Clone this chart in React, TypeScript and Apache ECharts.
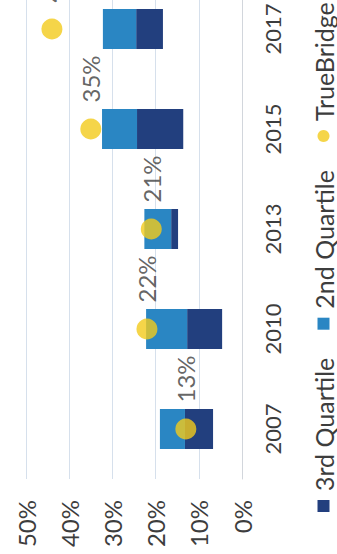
import React, { useEffect, useRef } from "react";
import * as echarts from "echarts";

const years = ["2007", "2010", "2013", "2015", "2017"];
const thirdQuartileLow = [6.7, 4.6, 14.8, 13.6, 18.3];
const medianValues = [13.2, 12.7, 16.4, 24.3, 24.5];
const secondQuartileHigh = [19.0, 22.2, 22.6, 32.4, 32.2];
const trueBridge = [13, 22, 21, 35, 44];
const seriesNames = ["3rd Quartile", "2nd Quartile", "TrueBridge"];

const FONT = "Lato";
const TEXT = "#3d3d3d";

export default function App() {
  const ref = useRef<HTMLDivElement>(null);

  useEffect(() => {
    if (!ref.current) return;
    const chart = echarts.init(ref.current, undefined, {
      renderer: "svg",
      width: 600,
      height: 337,
    });

    const base = thirdQuartileLow;
    const third = medianValues.map((m, i) => +(m - thirdQuartileLow[i]).toFixed(2));
    const second = secondQuartileHigh.map((h, i) => +(h - medianValues[i]).toFixed(2));

    chart.setOption({
      animation: false,
      backgroundColor: "#ffffff",
      textStyle: { fontFamily: FONT, color: TEXT },
      grid: { left: 75, right: 25, top: 26, bottom: 95, containLabel: false },
      legend: {
        data: [
          { name: seriesNames[0], icon: "rect" },
          { name: seriesNames[1], icon: "rect" },
          { name: seriesNames[2], icon: "circle" },
        ],
        left: 37,
        top: 306,
        itemWidth: 12,
        itemHeight: 12,
        itemGap: 28,
        textStyle: {
          fontFamily: FONT,
          fontSize: 25,
          color: TEXT,
          padding: [0, 0, 0, 4],
        },
      },
      xAxis: {
        type: "category",
        data: years,
        axisTick: { show: false },
        axisLine: { show: true, lineStyle: { color: "#d2d6dc", width: 1 } },
        axisLabel: { fontFamily: FONT, fontSize: 22, color: TEXT, margin: 19 },
      },
      yAxis: {
        type: "value",
        min: 0,
        max: 50,
        interval: 10,
        axisLine: { show: false },
        axisTick: { show: false },
        splitLine: { lineStyle: { color: "#d6e0ec", width: 1 } },
        axisLabel: {
          fontFamily: FONT,
          fontSize: 24,
          color: TEXT,
          margin: 21,
          formatter: "{value}%",
        },
      },
      series: [
        {
          name: "base",
          type: "bar",
          stack: "q",
          data: base,
          barWidth: 40,
          itemStyle: { color: "transparent" },
          emphasis: { disabled: true },
          silent: true,
        },
        {
          name: seriesNames[0],
          type: "bar",
          stack: "q",
          data: third,
          barWidth: 40,
          itemStyle: { color: "#223f7e" },
        },
        {
          name: seriesNames[1],
          type: "bar",
          stack: "q",
          data: second,
          barWidth: 40,
          itemStyle: { color: "#2a86c3" },
        },
        {
          name: seriesNames[2],
          type: "scatter",
          data: trueBridge,
          symbol: "circle",
          symbolSize: 21,
          z: 5,
          itemStyle: { color: "#f3cb1c" },
          label: {
            show: true,
            position: "right",
            distance: 16,
            fontFamily: FONT,
            fontSize: 24,
            color: TEXT,
            formatter: "{c}%",
          },
        },
      ],
    });

    return () => chart.dispose();
  }, []);

  return (
    <div
      style={{
        position: "fixed",
        left: 0,
        top: 0,
        width: 337,
        height: 554,
        overflow: "hidden",
        background: "#ffffff",
      }}
    >
      <div
        ref={ref}
        style={{
          position: "absolute",
          left: 0,
          top: 0,
          width: 600,
          height: 337,
          transformOrigin: "0 0",
          transform: "translateY(554px) rotate(-90deg)",
        }}
      />
    </div>
  );
}
